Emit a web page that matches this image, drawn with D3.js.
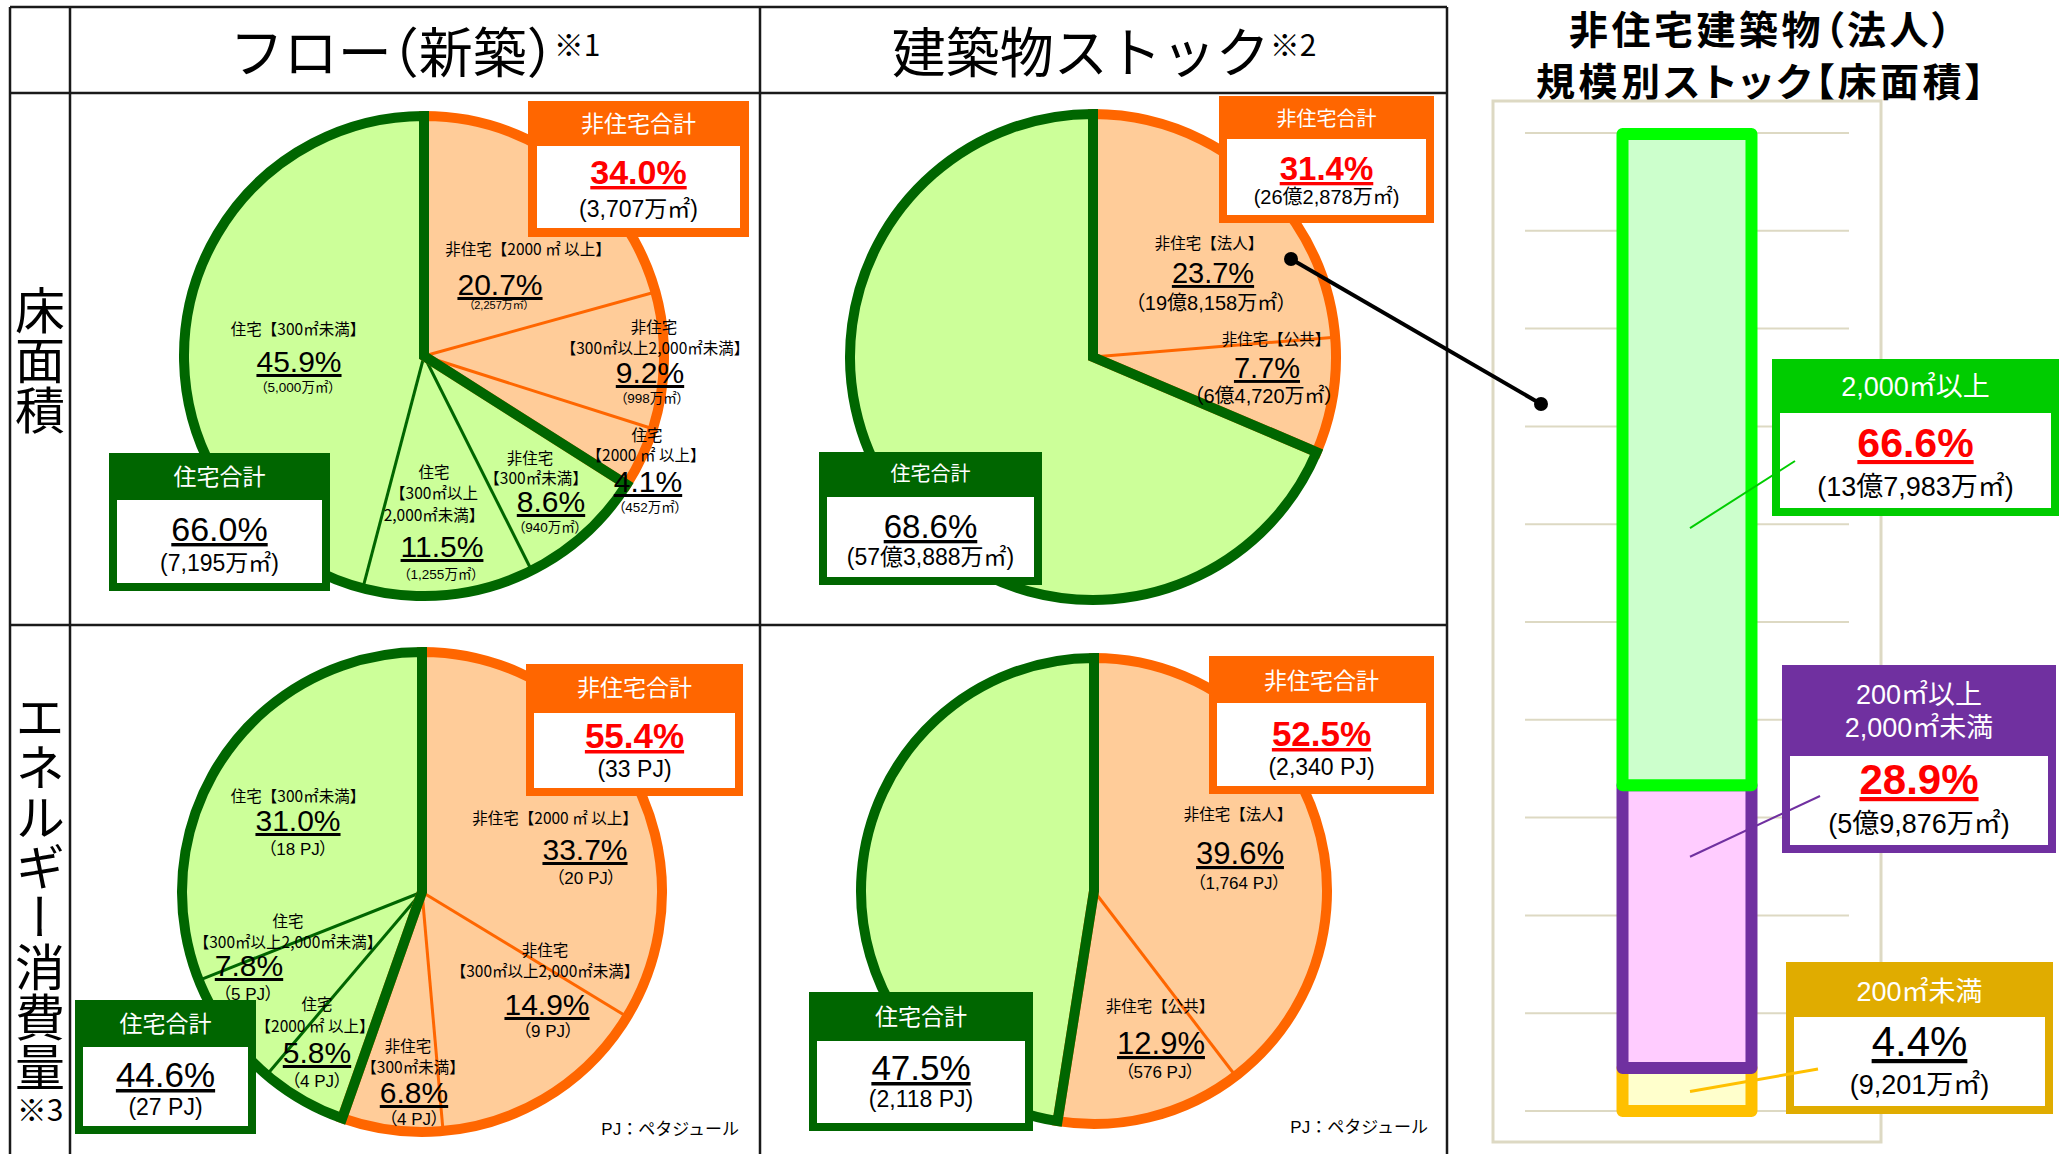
<!DOCTYPE html>
<html lang="ja">
<head>
<meta charset="utf-8">
<script src="https://cdn.jsdelivr.net/npm/d3@7"></script>
<style>
  html, body { margin: 0; padding: 0; background: #ffffff; }
  svg { display: block; }
</style>
</head>
<body>
<svg id="chart" width="2064" height="1154"></svg>
<script>
// ---------------- data ----------------
// Flow (new construction) – floor area
const flowFloorNames   = [["非住宅【2000 ㎡ 以上】"], ["非住宅", "【300㎡以上2,000㎡未満】"], ["住宅", "【2000 ㎡ 以上】"],
                          ["非住宅", "【300㎡未満】"], ["住宅", "【300㎡以上", "2,000㎡未満】"], ["住宅【300㎡未満】"]];
const flowFloorValues  = [20.7, 9.2, 4.1, 8.6, 11.5, 45.9];
const flowFloorGroups  = ["non", "non", "non", "res", "res", "res"];
const flowFloorAmounts = ["2,257万㎡", "998万㎡", "452万㎡", "940万㎡", "1,255万㎡", "5,000万㎡"];
const flowFloorTotals  = { non: "3,707万㎡", res: "7,195万㎡" };

// Flow (new construction) – energy consumption
const flowEnergyNames   = [["非住宅【2000 ㎡ 以上】"], ["非住宅", "【300㎡以上2,000㎡未満】"], ["非住宅", "【300㎡未満】"],
                           ["住宅", "【2000 ㎡ 以上】"], ["住宅", "【300㎡以上2,000㎡未満】"], ["住宅【300㎡未満】"]];
const flowEnergyValues  = [33.7, 14.9, 6.8, 5.8, 7.8, 31.0];
const flowEnergyGroups  = ["non", "non", "non", "res", "res", "res"];
const flowEnergyAmounts = ["20 PJ", "9 PJ", "4 PJ", "4 PJ", "5 PJ", "18 PJ"];
const flowEnergyTotals  = { non: "33 PJ", res: "27 PJ" };

// Building stock – floor area
const stockFloorNames   = [["非住宅【法人】"], ["非住宅【公共】"], []];
const stockFloorValues  = [23.7, 7.7, 68.6];
const stockFloorGroups  = ["non", "non", "res"];
const stockFloorAmounts = ["19億8,158万㎡", "6億4,720万㎡", null];
const stockFloorTotals  = { non: "26億2,878万㎡", res: "57億3,888万㎡" };

// Building stock – energy consumption
const stockEnergyNames   = [["非住宅【法人】"], ["非住宅【公共】"], []];
const stockEnergyValues  = [39.6, 12.9, 47.5];
const stockEnergyGroups  = ["non", "non", "res"];
const stockEnergyAmounts = ["1,764 PJ", "576 PJ", null];
const stockEnergyTotals  = { non: "2,340 PJ", res: "2,118 PJ" };

// Corporate non-residential stock by size (stacked bar, bottom to top)
const barCategories = [["200㎡未満"], ["200㎡以上", "2,000㎡未満"], ["2,000㎡以上"]];
const barValues     = [4.4, 28.9, 66.6];
const barAmounts    = ["9,201万㎡", "5億9,876万㎡", "13億7,983万㎡"];
const barGridTicks  = d3.range(0, 101, 10);

// ---------------- styling ----------------
const JP  = "'Noto Sans CJK JP', sans-serif";
const MIX = "'Liberation Sans', Arial, 'Noto Sans CJK JP', sans-serif";
const ORANGE = "#ff6600", PEACH = "#ffcc99", DKGREEN = "#006600", LIME = "#ccff99";
const groupStroke = { non: ORANGE, res: DKGREEN };
const groupFill   = { non: PEACH,  res: LIME };
const fmt = d3.format(".1f");

const svg = d3.select("#chart");

// ---------------- table frame ----------------
const frame = svg.append("g").attr("stroke", "#1a1a1a").attr("stroke-width", 2.5);
[[10, 7, 1447, 7], [10, 93, 1447, 93], [10, 625, 1447, 625],
 [10, 7, 10, 1154], [70, 7, 70, 1154], [760, 7, 760, 1154], [1447, 7, 1447, 1154]]
  .forEach(([x1, y1, x2, y2]) => frame.append("line").attr("x1", x1).attr("y1", y1).attr("x2", x2).attr("y2", y2));

// column titles
const t1 = svg.append("text").attr("x", 415).attr("y", 73).attr("text-anchor", "middle")
  .style("font-family", JP).style("font-size", "54px").attr("fill", "#000");
t1.append("tspan").text("フロー");
t1.append("tspan").style("font-feature-settings", "'halt'").text("（");
t1.append("tspan").text("新築");
t1.append("tspan").style("font-feature-settings", "'halt'").text("）");
t1.append("tspan").attr("dy", -17).style("font-size", "30px").text("※1");

const t2 = svg.append("text").attr("x", 1104).attr("y", 73).attr("text-anchor", "middle")
  .style("font-family", JP).style("font-size", "54px").attr("fill", "#000");
t2.append("tspan").text("建築物ストック");
t2.append("tspan").attr("dy", -17).style("font-size", "30px").text("※2");

// row titles (vertical)
svg.append("text").attr("x", 40).attr("y", 360).attr("text-anchor", "middle")
  .style("writing-mode", "vertical-rl").style("font-family", JP).style("font-size", "50px").text("床面積");
svg.append("text").attr("x", 40).attr("y", 892).attr("text-anchor", "middle")
  .style("writing-mode", "vertical-rl").style("font-family", JP).style("font-size", "50px").text("エネルギー消費量");
svg.append("text").attr("x", 40).attr("y", 1121).attr("text-anchor", "middle")
  .style("font-family", JP).style("font-size", "30px").text("※3");

// ---------------- pies ----------------
const pies = [
  { cx: 424, cy: 356, r: 240, values: flowFloorValues, groups: flowFloorGroups, names: flowFloorNames,
    amounts: flowFloorAmounts, totals: flowFloorTotals, ps: 30,
    labels: [
      { n: [[528, 248]], p: [500, 295], s: [499, 309], ss: 11 },
      { n: [[654, 326], [655, 347]], p: [650, 383], s: [652, 403], ss: 13.5 },
      { n: [[647, 434], [646, 454]], p: [648, 492], s: [650, 512], ss: 13.5 },
      { n: [[530, 457], [536, 477]], p: [551, 512], s: [550, 532], ss: 13.5 },
      { n: [[434, 471], [434, 492], [434, 514]], p: [442, 557], s: [441, 579], ss: 13.5 },
      { n: [[298, 328]], p: [299, 372], s: [298, 392], ss: 13.5 }],
    boxes: {
      non: { x: 528, y: 101, w: 221, h: 136, hh: 45, bw: 9, hy: 124, hs: 23, py: 184, ps: 34, sy: 217, ss: 23 },
      res: { x: 109, y: 453, w: 221, h: 138, hh: 47, bw: 8, hy: 477, hs: 23, py: 541, ps: 34, sy: 571, ss: 23 } } },
  { cx: 1093, cy: 357, r: 243, values: stockFloorValues, groups: stockFloorGroups, names: stockFloorNames,
    amounts: stockFloorAmounts, totals: stockFloorTotals, ps: 29,
    labels: [
      { n: [[1209, 242]], p: [1213, 283], s: [1211, 310], ss: 20 },
      { n: [[1276, 338]], p: [1267, 378], s: [1264, 403], ss: 20 },
      null],
    boxes: {
      non: { x: 1219, y: 96, w: 215, h: 127, hh: 43, bw: 8, hy: 119, hs: 20, py: 180, ps: 33, sy: 204, ss: 20 },
      res: { x: 819, y: 452, w: 223, h: 133, hh: 45, bw: 8, hy: 474, hs: 20, py: 538, ps: 33, sy: 565, ss: 23 } } },
  { cx: 422, cy: 892, r: 240, values: flowEnergyValues, groups: flowEnergyGroups, names: flowEnergyNames,
    amounts: flowEnergyAmounts, totals: flowEnergyTotals, ps: 30,
    labels: [
      { n: [[555, 817]], p: [585, 860], s: [586, 884], ss: 17 },
      { n: [[545, 949], [545, 970]], p: [547, 1015], s: [548, 1037], ss: 17 },
      { n: [[408, 1045], [413, 1066]], p: [414, 1103], s: [414, 1125], ss: 17 },
      { n: [[317, 1003], [315, 1025]], p: [317, 1063], s: [317, 1087], ss: 17 },
      { n: [[288, 920], [288, 941]], p: [249, 976], s: [248, 1000], ss: 17 },
      { n: [[298, 795]], p: [298, 831], s: [298, 855], ss: 17 }],
    boxes: {
      non: { x: 526, y: 664, w: 217, h: 132, hh: 49, bw: 8, hy: 688, hs: 23, py: 748, ps: 35, sy: 777, ss: 23 },
      res: { x: 75, y: 1000, w: 181, h: 134, hh: 47, bw: 8, hy: 1024, hs: 23, py: 1087, ps: 35, sy: 1115, ss: 23 } } },
  { cx: 1094, cy: 891, r: 233, values: stockEnergyValues, groups: stockEnergyGroups, names: stockEnergyNames,
    amounts: stockEnergyAmounts, totals: stockEnergyTotals, ps: 31,
    labels: [
      { n: [[1238, 813]], p: [1240, 864], s: [1239, 889], ss: 17 },
      { n: [[1160, 1005]], p: [1161, 1054], s: [1160, 1078], ss: 17 },
      null],
    boxes: {
      non: { x: 1209, y: 656, w: 225, h: 138, hh: 47, bw: 8, hy: 681, hs: 23, py: 746, ps: 35, sy: 775, ss: 23 },
      res: { x: 809, y: 992, w: 224, h: 139, hh: 49, bw: 8, hy: 1017, hs: 23, py: 1080, ps: 35, sy: 1107, ss: 23 } } }
];

function drawPie(cfg) {
  const g = svg.append("g").attr("transform", `translate(${cfg.cx},${cfg.cy})`);
  const arcs = d3.pie().sort(null).value(d => d)(cfg.values);
  const arc = d3.arc().innerRadius(0).outerRadius(cfg.r);

  g.selectAll("path.slice").data(arcs).join("path")
    .attr("class", "slice")
    .attr("d", arc)
    .attr("fill", (d, i) => groupFill[cfg.groups[i]])
    .attr("stroke", (d, i) => groupFill[cfg.groups[i]])
    .attr("stroke-width", 0.6);

  // thin dividers between slices of the same group
  arcs.forEach((d, i) => {
    if (i < arcs.length - 1 && cfg.groups[i] === cfg.groups[i + 1]) {
      const p = d3.pointRadial(d.endAngle, cfg.r);
      g.append("line").attr("x1", 0).attr("y1", 0).attr("x2", p[0]).attr("y2", p[1])
        .attr("stroke", groupStroke[cfg.groups[i]]).attr("stroke-width", 3);
    }
  });

  // heavy outline around each group (residential drawn last so it sits on top)
  ["non", "res"].forEach(grp => {
    const members = arcs.filter((d, i) => cfg.groups[i] === grp);
    const a0 = d3.min(members, d => d.startAngle), a1 = d3.max(members, d => d.endAngle);
    g.append("path")
      .attr("d", arc({ startAngle: a0, endAngle: a1 }))
      .attr("fill", "none")
      .attr("stroke", groupStroke[grp])
      .attr("stroke-width", 10)
      .attr("stroke-linejoin", "miter");
  });
}

function labelPie(cfg) {
  const g = svg.append("g");
  cfg.values.forEach((v, i) => {
    const L = cfg.labels[i];
    if (!L) return;
    cfg.names[i].forEach((t, j) => {
      g.append("text").attr("x", L.n[j][0]).attr("y", L.n[j][1])
        .attr("text-anchor", "middle").attr("dominant-baseline", "central")
        .style("font-family", JP).style("font-size", "15.5px").attr("fill", "#000").text(t);
    });
    g.append("text").attr("x", L.p[0]).attr("y", L.p[1]).attr("text-anchor", "middle")
      .style("font-family", MIX).style("font-size", cfg.ps + "px").style("text-decoration", "underline")
      .attr("fill", "#000").text(fmt(v) + "%");
    g.append("text").attr("x", L.s[0]).attr("y", L.s[1]).attr("text-anchor", "middle")
      .style("font-family", MIX).style("font-size", L.ss + "px").style("font-feature-settings", "'palt'")
      .attr("fill", "#000").text("（" + cfg.amounts[i] + "）");
  });
}

// callout: coloured header band + white panel with a coloured border
function callout(b, color, headLines, pctText, subText, pctStyle) {
  const g = svg.append("g");
  const cx = b.x + b.w / 2;
  g.append("rect").attr("x", b.x).attr("y", b.y).attr("width", b.w).attr("height", b.h).attr("fill", color);
  g.append("rect").attr("x", b.x + b.bw).attr("y", b.y + b.hh)
    .attr("width", b.w - 2 * b.bw).attr("height", b.h - b.hh - b.bw).attr("fill", "#ffffff");
  const hy = Array.isArray(b.hy) ? b.hy : [b.hy];
  headLines.forEach((t, i) => {
    g.append("text").attr("x", cx).attr("y", hy[i]).attr("text-anchor", "middle").attr("dominant-baseline", "central")
      .style("font-family", MIX).style("font-size", b.hs + "px").attr("fill", "#ffffff").text(t);
  });
  g.append("text").attr("x", cx).attr("y", b.py).attr("text-anchor", "middle")
    .style("font-family", MIX).style("font-size", b.ps + "px")
    .style("font-weight", pctStyle.bold ? "bold" : "normal")
    .style("text-decoration", "underline")
    .attr("fill", pctStyle.color).text(pctText);
  g.append("text").attr("x", cx).attr("y", b.sy).attr("text-anchor", "middle")
    .style("font-family", MIX).style("font-size", b.ss + "px").attr("fill", "#000").text("(" + subText + ")");
}

pies.forEach(drawPie);
pies.forEach(labelPie);
pies.forEach(cfg => {
  const sumOf = grp => d3.sum(cfg.values.filter((v, i) => cfg.groups[i] === grp));
  callout(cfg.boxes.non, ORANGE, ["非住宅合計"], fmt(sumOf("non")) + "%", cfg.totals.non, { bold: true, color: "#ff0000" });
  callout(cfg.boxes.res, DKGREEN, ["住宅合計"], fmt(sumOf("res")) + "%", cfg.totals.res, { bold: false, color: "#000000" });
});

// unit notes
[[739, 1135], [1428, 1133]].forEach(([x, y]) => {
  svg.append("text").attr("x", x).attr("y", y).attr("text-anchor", "end")
    .style("font-family", MIX).style("font-size", "17px").attr("fill", "#000").text("PJ：ペタジュール");
});

// ---------------- right panel: stacked bar ----------------
svg.append("text").attr("x", 1762).attr("y", 44).attr("text-anchor", "middle")
  .style("font-family", JP).style("font-size", "39px").style("font-weight", "bold")
  .style("letter-spacing", "3.5px").style("font-feature-settings", "'palt'").text("非住宅建築物（法人）");
svg.append("text").attr("x", 1762).attr("y", 96).attr("text-anchor", "middle")
  .style("font-family", JP).style("font-size", "39px").style("font-weight", "bold")
  .style("letter-spacing", "3.5px").style("font-feature-settings", "'palt'").text("規模別ストック【床面積】");

svg.append("rect").attr("x", 1493).attr("y", 101).attr("width", 388).attr("height", 1041)
  .attr("fill", "#ffffff").attr("stroke", "#ddd9c3").attr("stroke-width", 3);

const yBar = d3.scaleLinear().domain([0, 100]).range([1111, 133]);
const xBar = d3.scaleBand().domain(["法人"]).range([1525, 1849]).paddingInner(0).paddingOuter(0.756);

svg.append("g").selectAll("line").data(barGridTicks).join("line")
  .attr("x1", 1525).attr("x2", 1849).attr("y1", d => yBar(d)).attr("y2", d => yBar(d))
  .attr("stroke", "#ddd9c3").attr("stroke-width", 2);

const segStroke = ["#ffc000", "#7030a0", "#00ff00"];
const segFill   = ["#ffffcc", "#ffccff", "#ccffcc"];
const segHead   = ["#e0ac00", "#7030a0", "#00cc00"];
const stackEnds = d3.cumsum(barValues);
const segs = barValues.map((v, i) => ({ v, i, y0: stackEnds[i] - v, y1: stackEnds[i] }));

svg.append("g").selectAll("rect").data(segs).join("rect")
  .attr("x", xBar("法人")).attr("width", xBar.bandwidth())
  .attr("y", d => yBar(d.y1)).attr("height", d => yBar(d.y0) - yBar(d.y1))
  .attr("fill", d => segFill[d.i]).attr("stroke", d => segStroke[d.i])
  .attr("stroke-width", 12).attr("stroke-linejoin", "round");

const barBoxes = [
  { x: 1786, y: 962, w: 267, h: 152, hh: 55, bw: 8, hy: [992], hs: 27, py: 1056, ps: 42, sy: 1094, ss: 27 },
  { x: 1782, y: 665, w: 274, h: 188, hh: 91, bw: 8, hy: [695, 728], hs: 27, py: 794, ps: 42, sy: 833, ss: 27 },
  { x: 1772, y: 359, w: 287, h: 157, hh: 54, bw: 8, hy: [387], hs: 27, py: 457, ps: 41, sy: 496, ss: 27 }
];
const pctStyles = [{ bold: false, color: "#000000" }, { bold: true, color: "#ff0000" }, { bold: true, color: "#ff0000" }];
barValues.forEach((v, i) => callout(barBoxes[i], segHead[i], barCategories[i], fmt(v) + "%", barAmounts[i], pctStyles[i]));

// leader lines from each segment to its callout
const leaders = [
  { at: 2.0,  end: [1818, 1069], color: "#ffc000", w: 3 },
  { at: 26.0, end: [1820, 796],  color: "#7030a0", w: 2 },
  { at: 59.6, end: [1795, 461],  color: "#00cc00", w: 2 }
];
const barMid = xBar("法人") + xBar.bandwidth() / 2;
leaders.forEach(l => {
  svg.append("line").attr("x1", barMid + 3).attr("y1", yBar(l.at)).attr("x2", l.end[0]).attr("y2", l.end[1])
    .attr("stroke", l.color).attr("stroke-width", l.w);
});

// connector from corporate stock slice to the bar panel
const conn = svg.append("g");
conn.append("line").attr("x1", 1291).attr("y1", 259).attr("x2", 1541).attr("y2", 404)
  .attr("stroke", "#000").attr("stroke-width", 4);
[[1291, 259], [1541, 404]].forEach(([x, y]) => conn.append("circle").attr("cx", x).attr("cy", y).attr("r", 7).attr("fill", "#000"));
</script>
</body>
</html>
